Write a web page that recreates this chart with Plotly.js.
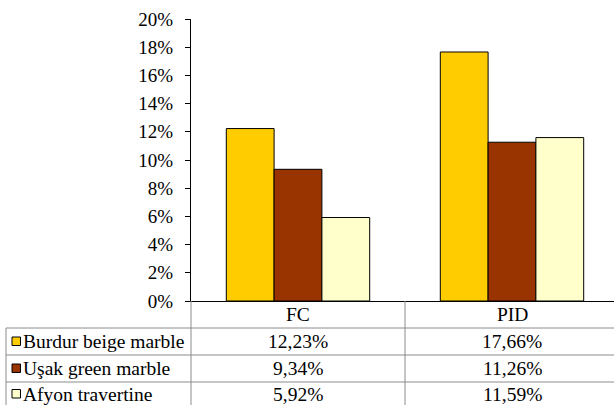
<!DOCTYPE html>
<html>
<head>
<meta charset="utf-8">
<script src="https://cdn.plot.ly/plotly-3.0.1.min.js"></script>
<style>
  html, body { margin: 0; padding: 0; background: #fff; }
  #chart { width: 614px; height: 405px; }
</style>
</head>
<body>
<div id="chart"></div>
<script>
// Measures compared for each stone type
const categories = ['FC', 'PID'];
const seriesNames = ['Burdur beige marble', 'Uşak green marble', 'Afyon travertine'];
const burdurValues = [0.1223, 0.1766];
const usakValues = [0.0934, 0.1126];
const afyonValues = [0.0592, 0.1159];
const seriesColors = ['#FFCC00', '#993300', '#FFFFCC'];
const yTickValues = [0, 0.02, 0.04, 0.06, 0.08, 0.10, 0.12, 0.14, 0.16, 0.18, 0.20];

const seriesValues = [burdurValues, usakValues, afyonValues];
const FONT = 'Liberation Serif, Times New Roman, serif';
const TABLE_SIZE = 19.5;

// Plot frame in pixels
const W = 614, H = 405;
const L = 191, T = 19, PLOT_H = 282, PLOT_W = W - L;
const bottom = T + PLOT_H;
const px = x => (x - L) / PLOT_W;
const py = y => (bottom - y) / PLOT_H;

const traces = seriesNames.map((name, i) => ({
  type: 'bar',
  name: name,
  x: categories,
  y: seriesValues[i],
  marker: { color: seriesColors[i], line: { color: '#000', width: 1 } },
  hoverinfo: 'x+y+name'
}));

// Data table beneath the plot
const rowLines = [328, 355, 382];
const rowCenters = [341.5, 368.5, 394];
const tableLeft = 6;
const divider = L + 214;
const gridColor = '#8c8c8c';
const shapes = [];
const line = (x0, y0, x1, y1, color) => shapes.push({
  type: 'line', xref: 'paper', yref: 'paper',
  x0: px(x0), y0: py(y0), x1: px(x1), y1: py(y1),
  line: { color: color || gridColor, width: 1 }
});
line(L, bottom, L, H);
line(divider, bottom, divider, H);
line(tableLeft, rowLines[0], tableLeft, H);
rowLines.forEach(y => line(tableLeft, y, W, y));

const cellFont = { family: FONT, size: TABLE_SIZE, color: '#000' };
const annotations = [];
categories.forEach(c => {
  annotations.push({
    xref: 'x', yref: 'paper', x: c, y: py(314.5), yanchor: 'middle',
    text: c, showarrow: false, font: cellFont
  });
});
seriesNames.forEach((name, si) => {
  const yc = rowCenters[si];
  // legend key
  shapes.push({
    type: 'rect', xref: 'paper', yref: 'paper',
    x0: px(12), x1: px(20.5), y0: py(yc - 4.5), y1: py(yc + 4),
    fillcolor: seriesColors[si], line: { color: '#000', width: 1 }
  });
  annotations.push({
    xref: 'paper', yref: 'paper', x: px(20.5), y: py(yc), xanchor: 'left', yanchor: 'middle',
    text: name, showarrow: false, font: cellFont
  });
  categories.forEach((c, ci) => {
    const v = seriesValues[si][ci];
    annotations.push({
      xref: 'x', yref: 'paper', x: c, y: py(yc), yanchor: 'middle',
      text: (v * 100).toFixed(2).replace('.', ',') + '%', showarrow: false,
      font: cellFont
    });
  });
});

const layout = {
  width: W, height: H,
  margin: { l: L, r: 0, t: T, b: H - bottom, pad: 0 },
  paper_bgcolor: '#fff', plot_bgcolor: '#fff',
  showlegend: false,
  barmode: 'group',
  bargap: 0.33,
  bargroupgap: 0,
  font: { family: FONT, size: 19, color: '#000' },
  xaxis: {
    type: 'category',
    range: [-0.5, -0.5 + PLOT_W / 214],
    showticklabels: false, ticks: '',
    showline: true, linecolor: '#000', linewidth: 1,
    showgrid: false, zeroline: false, fixedrange: true
  },
  yaxis: {
    range: [0, 0.2],
    tickvals: yTickValues,
    tickformat: '.0%',
    ticks: 'outside', ticklen: 5, tickcolor: '#000', tickwidth: 1,
    showline: true, linecolor: '#000', linewidth: 1,
    showgrid: false, zeroline: false,
    tickfont: { family: FONT, size: 19, color: '#000' },
    ticklabelstandoff: 8,
    fixedrange: true
  },
  shapes: shapes,
  annotations: annotations
};

Plotly.newPlot('chart', traces, layout, { displayModeBar: false, staticPlot: true });
</script>
</body>
</html>
